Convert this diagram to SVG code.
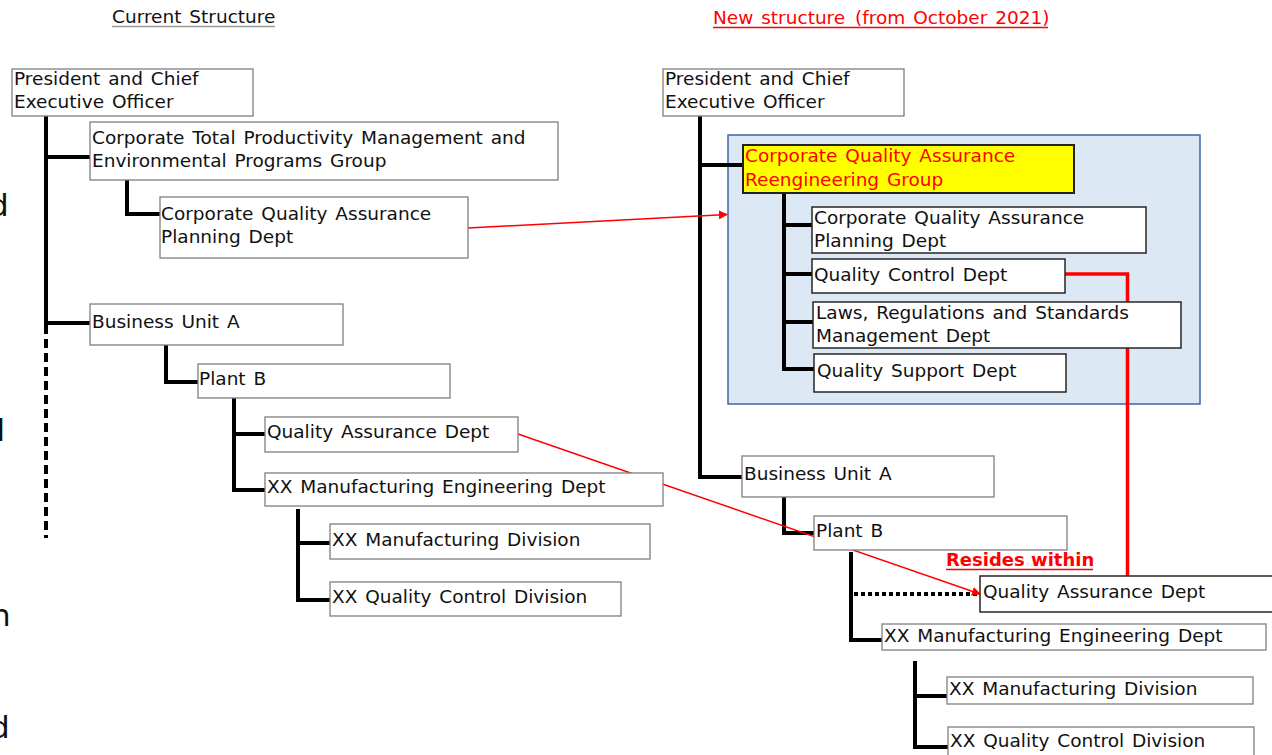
<svg xmlns="http://www.w3.org/2000/svg" width="1272" height="755" viewBox="0 0 1272 755">
<style>
  text { font-family: "DejaVu Sans", "Liberation Sans", sans-serif; font-size: 18.5px; word-spacing: 2px; fill: #111; }
  .lbox { fill: #fff; stroke: #7f7f7f; stroke-width: 1.3; }
  .rbox { fill: #fff; stroke: #262626; stroke-width: 1.5; }
  .tree { fill: none; stroke: #000; stroke-width: 4; }
  .red { fill: #ff0000; }
  .edge { font-size: 31px; }
</style>
<defs>
  <marker id="ah" viewBox="0 0 10 10" refX="9" refY="5" markerWidth="9" markerHeight="9" markerUnits="userSpaceOnUse" orient="auto">
    <path d="M0,0 L10,5 L0,10 z" fill="#ff0000"/>
  </marker>
</defs>
<rect width="1272" height="755" fill="#fff"/>

<!-- cut-off glyphs at left edge -->
<g id="edge-text">
  <text class="edge" x="-11" y="216">d</text>
  <text class="edge" x="-3.5" y="441">l</text>
  <text class="edge" x="-9" y="626">n</text>
  <text class="edge" x="-10" y="738">d</text>
</g>

<!-- titles -->
<g id="title-current">
  <text x="112" y="23" fill="#222">Current Structure</text>
  <line x1="112" y1="26.5" x2="275" y2="26.5" stroke="#9a9a9a" stroke-width="1.3"/>
</g>
<g id="title-new">
  <text class="red" x="713" y="24">New structure <tspan dx="2">(from October 2021)</tspan></text>
  <line x1="713" y1="27.5" x2="1048" y2="27.5" stroke="#ff0000" stroke-width="1.3"/>
</g>

<!-- blue highlight region -->
<rect id="highlight" x="728" y="135" width="472" height="269" fill="#dde8f5" stroke="#3f64a8" stroke-width="1.5"/>

<!-- connectors -->
<g id="connectors">
  <!-- left tree -->
  <path class="tree" d="M46,116 V325 M46,157 H90 M46,323 H90"/>
  <path class="tree" d="M46,325 V538" stroke-dasharray="9 5"/>
  <path class="tree" d="M127,180 V214 H160"/>
  <path class="tree" d="M166,345 V382 H198"/>
  <path class="tree" d="M234,398 V490 H265 M234,434 H265"/>
  <path class="tree" d="M298,509 V600 H330 M298,543 H330"/>
  <!-- right tree -->
  <path class="tree" d="M700,116 V477 H742 M700,165 H743"/>
  <path class="tree" d="M784,194 V369 H814 M784,225 H812 M784,274 H812 M784,322 H813"/>
  <path class="tree" d="M784,497 V533 H814"/>
  <path class="tree" d="M851,552 V640 H882"/>
  <path class="tree" d="M854,594 H980" stroke-dasharray="4 3"/>
  <path class="tree" d="M915,661 V747 H948 M915,696 H947"/>
  <!-- red links -->
  <path d="M1065,274 H1127.5 V576" fill="none" stroke="#ff0000" stroke-width="3.5"/>
  <line x1="468" y1="228" x2="727" y2="214.5" stroke="#ff0000" stroke-width="1.5" marker-end="url(#ah)"/>
  <line x1="518" y1="434" x2="980" y2="594" stroke="#ff0000" stroke-width="1.5" marker-end="url(#ah)"/>
</g>

<!-- left nodes -->
<g id="l-ceo">
  <rect class="lbox" x="12" y="69" width="241" height="47"/>
  <text x="14" y="85">President and Chief</text>
  <text x="14" y="108">Executive Officer</text>
</g>
<g id="l-tpm">
  <rect class="lbox" x="90" y="122" width="468" height="58"/>
  <text x="92" y="144">Corporate Total Productivity Management and</text>
  <text x="92" y="167">Environmental Programs Group</text>
</g>
<g id="l-cqap">
  <rect class="lbox" x="160" y="197" width="308" height="61"/>
  <text x="161" y="220">Corporate Quality Assurance</text>
  <text x="161" y="243">Planning Dept</text>
</g>
<g id="l-bu">
  <rect class="lbox" x="90" y="304" width="253" height="41"/>
  <text x="92" y="328">Business Unit A</text>
</g>
<g id="l-plant">
  <rect class="lbox" x="198" y="364" width="252" height="34"/>
  <text x="199" y="385">Plant B</text>
</g>
<g id="l-qa">
  <rect class="lbox" x="265" y="417" width="253" height="35"/>
  <text x="267" y="438">Quality Assurance Dept</text>
</g>
<g id="l-xxme">
  <rect class="lbox" x="265" y="473" width="398" height="33"/>
  <text x="267" y="493">XX Manufacturing Engineering Dept</text>
</g>
<g id="l-xxmd">
  <rect class="lbox" x="330" y="524" width="320" height="35"/>
  <text x="332" y="546">XX Manufacturing Division</text>
</g>
<g id="l-xxqc">
  <rect class="lbox" x="330" y="582" width="291" height="34"/>
  <text x="332" y="603">XX Quality Control Division</text>
</g>

<!-- right nodes -->
<g id="r-ceo">
  <rect class="lbox" x="663" y="69" width="241" height="47"/>
  <text x="665" y="85">President and Chief</text>
  <text x="665" y="108">Executive Officer</text>
</g>
<g id="r-cqar">
  <rect x="743" y="145" width="331" height="48" fill="#ffff00" stroke="#222" stroke-width="2"/>
  <text class="red" x="745" y="162">Corporate Quality Assurance</text>
  <text class="red" x="745" y="186">Reengineering Group</text>
</g>
<g id="r-cqap">
  <rect class="rbox" x="812" y="207" width="334" height="46"/>
  <text x="814" y="224">Corporate Quality Assurance</text>
  <text x="814" y="247">Planning Dept</text>
</g>
<g id="r-qc">
  <rect class="rbox" x="812" y="259" width="253" height="34"/>
  <text x="814" y="281">Quality Control Dept</text>
</g>
<g id="r-laws">
  <rect class="rbox" x="813" y="302" width="368" height="46"/>
  <text x="816" y="319">Laws, Regulations and Standards</text>
  <text x="816" y="342">Management Dept</text>
</g>
<g id="r-qs">
  <rect class="rbox" x="814" y="354" width="252" height="38"/>
  <text x="817" y="377">Quality Support Dept</text>
</g>
<g id="r-bu">
  <rect class="lbox" x="742" y="456" width="252" height="41"/>
  <text x="744" y="480">Business Unit A</text>
</g>
<g id="r-plant">
  <rect class="lbox" x="814" y="516" width="253" height="34"/>
  <text x="816" y="537">Plant B</text>
</g>
<g id="r-qa">
  <rect class="rbox" x="980" y="576" width="300" height="36"/>
  <text x="983" y="598">Quality Assurance Dept</text>
</g>
<g id="r-xxme">
  <rect class="lbox" x="882" y="624" width="384" height="26"/>
  <text x="884" y="642">XX Manufacturing Engineering Dept</text>
</g>
<g id="r-xxmd">
  <rect class="lbox" x="947" y="677" width="306" height="27"/>
  <text x="949" y="695">XX Manufacturing Division</text>
</g>
<g id="r-xxqc">
  <rect class="lbox" x="948" y="727" width="306" height="40"/>
  <text x="950" y="747">XX Quality Control Division</text>
</g>

<g id="resides-label">
  <text x="946" y="566" style="font-weight:bold;fill:#ff0000;word-spacing:0;font-size:18px">Resides within</text>
  <line x1="946" y1="569.5" x2="1093" y2="569.5" stroke="#ff0000" stroke-width="1.3"/>
</g>
</svg>
